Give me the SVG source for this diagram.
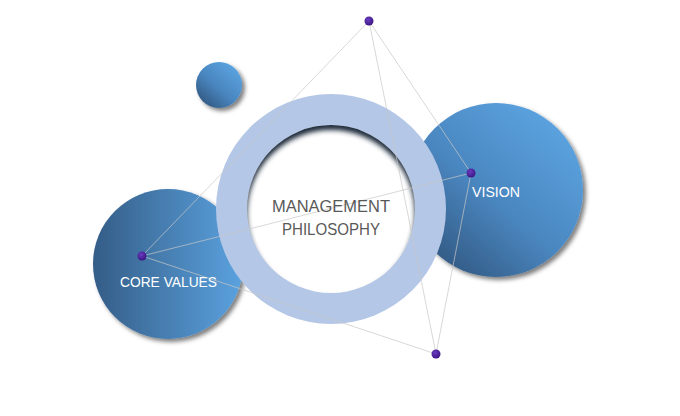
<svg xmlns="http://www.w3.org/2000/svg" width="680" height="416" viewBox="0 0 680 416">
  <defs>
    <style>
      .lbl { font-family: "Liberation Sans", Arial, sans-serif; }
      .white { fill: #ffffff; font-size: 15.5px; }
      .gray { fill: #595959; font-size: 16.5px; }
      .link { stroke: #c8c8c8; stroke-opacity: 0.7; stroke-width: 1; fill: none; }
      .dot { fill: url(#gDot); }
    </style>
    <linearGradient id="gCore" x1="0" y1="0" x2="1" y2="0">
      <stop offset="0" stop-color="#345d87"/>
      <stop offset="1" stop-color="#5ba2df"/>
    </linearGradient>
    <linearGradient id="gDiag" x1="0.15" y1="0.9" x2="0.85" y2="0.1">
      <stop offset="0" stop-color="#325a84"/>
      <stop offset="0.45" stop-color="#4a86bf"/>
      <stop offset="1" stop-color="#5ba3e0"/>
    </linearGradient>
    <radialGradient id="gDot" cx="0.4" cy="0.35" r="0.65">
      <stop offset="0" stop-color="#6a3cc0"/>
      <stop offset="1" stop-color="#3d1585"/>
    </radialGradient>
    <filter id="shadow" x="-20%" y="-20%" width="140%" height="140%">
      <feDropShadow dx="3" dy="3" stdDeviation="2" flood-color="#000" flood-opacity="0.5"/>
    </filter>
    <filter id="blur" x="-20%" y="-20%" width="140%" height="140%">
      <feGaussianBlur stdDeviation="2.5"/>
    </filter>
    <clipPath id="innerClip">
      <circle cx="331" cy="209" r="84"/>
    </clipPath>
  </defs>

  <g id="small-circle">
    <circle cx="219" cy="85" r="23" fill="url(#gDiag)" filter="url(#shadow)"/>
  </g>

  <g id="core-values">
    <circle cx="168" cy="264" r="75" fill="url(#gCore)" filter="url(#shadow)"/>
  </g>

  <g id="vision">
    <circle cx="496" cy="190" r="87" fill="url(#gDiag)" filter="url(#shadow)"/>
  </g>

  <g id="management-philosophy">
    <circle cx="331" cy="209" r="115" fill="#b4c7e7"/>
    <circle cx="331" cy="209" r="84" fill="#ffffff"/>
    <g clip-path="url(#innerClip)">
      <circle cx="331" cy="214" r="94" fill="none" stroke="#1f2a3a" stroke-width="20" filter="url(#blur)"/>
    </g>
  </g>

  <g id="connectors">
    <line class="link" x1="369" y1="21" x2="142" y2="256"/>
    <line class="link" x1="369" y1="21" x2="471" y2="173"/>
    <line class="link" x1="369" y1="21" x2="436" y2="354"/>
    <line class="link" x1="471" y1="173" x2="436" y2="354"/>
    <line class="link" x1="142" y1="256" x2="471" y2="173"/>
    <line class="link" x1="142" y1="256" x2="436" y2="354"/>
  </g>

  <g id="dots">
    <circle class="dot" cx="369" cy="21" r="4.5"/>
    <circle class="dot" cx="471" cy="173" r="4.5"/>
    <circle class="dot" cx="142" cy="256" r="4.5"/>
    <circle class="dot" cx="436" cy="354" r="4.5"/>
  </g>

  <g id="labels">
    <text class="lbl gray" x="331" y="212" text-anchor="middle" textLength="118" lengthAdjust="spacingAndGlyphs">MANAGEMENT</text>
    <text class="lbl gray" x="331" y="235" text-anchor="middle" textLength="98" lengthAdjust="spacingAndGlyphs">PHILOSOPHY</text>
    <text class="lbl white" x="472" y="197" textLength="48" lengthAdjust="spacingAndGlyphs">VISION</text>
    <text class="lbl white" x="120" y="287" textLength="97" lengthAdjust="spacingAndGlyphs">CORE VALUES</text>
  </g>
</svg>
